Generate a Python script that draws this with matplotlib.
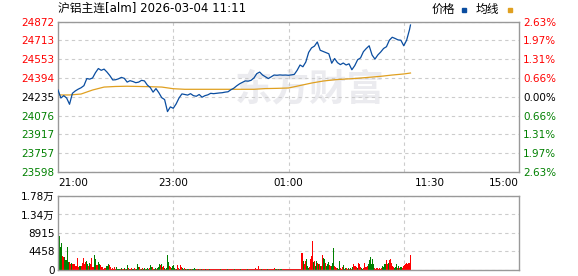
import numpy as np
import matplotlib
matplotlib.use('Agg')
import matplotlib.pyplot as plt

plt.rcParams['font.family'] = ['DejaVu Sans', 'Noto Sans CJK SC']

# axis scales
time_labels = ['21:00', '23:00', '01:00', '11:30', '15:00']
price_ticks = [23598, 23757, 23917, 24076, 24235, 24394, 24553, 24713, 24872]
pct_labels = ['2.63%', '1.97%', '1.31%', '0.66%', '0.00%', '0.66%', '1.31%', '1.97%', '2.63%']
vol_ticks = [0, 4458, 8915, 13373, 17830]
vol_labels = ['0', '4458', '8915', '1.34万', '1.78万']
prev_close = 24235

# price, one value every 3 minutes (last one at minute 367)
price = [24293, 24225, 24245, 24225, 24172, 24265, 24285, 24300, 24312, 24330,
         24390, 24385, 24395, 24440, 24475, 24460, 24470, 24445, 24415, 24378,
         24380, 24388, 24400, 24392, 24360, 24372, 24365, 24355, 24360, 24375,
         24370, 24335, 24315, 24275, 24305, 24270, 24228, 24212, 24110, 24150,
         24138, 24175, 24225, 24260, 24255, 24250, 24262, 24245, 24240, 24255,
         24232, 24245, 24252, 24265, 24262, 24265, 24268, 24270, 24275, 24278,
         24295, 24308, 24328, 24345, 24358, 24370, 24368, 24375, 24395, 24432,
         24445, 24420, 24405, 24390, 24405, 24420, 24418, 24421, 24419, 24420,
         24418, 24421, 24425, 24460, 24505, 24490, 24530, 24612, 24650, 24665,
         24700, 24630, 24620, 24610, 24600, 24520, 24560, 24525, 24508, 24522,
         24505, 24515, 24465, 24500, 24550, 24565, 24618, 24645, 24668, 24590,
         24555, 24590, 24615, 24645, 24660, 24715, 24740, 24730, 24718, 24715,
         24668, 24715, 24805, 24844]

# average line, one value every 12 minutes (last one at minute 367)
avg_price = [24251, 24251, 24259, 24293, 24318, 24323, 24325, 24323, 24321, 24318,
             24304, 24299, 24299, 24299, 24299, 24299, 24299, 24299, 24305, 24307,
             24310, 24331, 24352, 24369, 24380, 24386, 24392, 24401, 24409, 24420,
             24429, 24437]

# volume, one bar per minute
volume = [16380, 8190, 5540, 6585, 3370, 3130, 3210, 2410, 2410, 5540,
          2010, 2010, 3130, 1525, 1765, 1365, 1365, 1365, 965, 965,
          2890, 805, 965, 965, 965, 1605, 2890, 1365, 1925, 2170,
          1365, 965, 1765, 1365, 2890, 805, 805, 4015, 3535, 2570,
          1125, 1125, 1925, 1365, 1125, 805, 640, 320, 560, 480,
          965, 965, 1365, 1125, 805, 320, 560, 320, 720, 320,
          720, 320,
          240, 480, 320, 240, 560, 320, 240, 480, 320, 240,
          1205, 560, 320, 240, 480, 320, 240, 560, 320, 240,
          1445, 640, 805, 320, 240, 480, 320, 240, 560, 320,
          240, 560, 320, 480, 1205, 640, 805, 320, 240, 480,
          320, 560, 805, 1445, 1205, 1365, 720, 965, 480, 320,
          560, 640, 3535, 1925, 965, 805, 480, 965, 1205, 480,
          240, 320, 1205, 480, 240, 1205, 720, 560, 240, 560,
          160, 240, 160, 240, 160, 240, 160, 240, 160, 240,
          480, 160, 240, 160, 240, 160, 160, 240, 160, 160,
          240, 160, 160, 240, 160, 160, 240, 160, 160, 240,
          160, 160, 240, 160, 160, 240, 160, 160, 160, 240,
          160, 160, 240, 160, 160, 240, 160, 160, 160, 240,
          160, 160, 240, 160, 160, 240, 160, 160, 240, 160,
          160, 240, 160, 160, 240, 160, 160, 240, 160, 160,
          240, 160, 320, 560, 240, 160, 885, 320, 160, 240,
          160, 160, 240, 160, 160, 240, 160, 160, 240, 160,
          160, 240, 320, 560, 240, 160, 240, 160, 160, 240,
          160, 240, 160, 240,
          240, 240, 240, 240, 240, 240, 240, 240, 240, 240,
          240, 240, 240, 240, 240, 240, 240,
          4175, 4175, 2170, 1365, 2170, 2570, 965, 560, 640, 2570,
          3370, 6985, 2170, 1925, 2170, 965, 2170, 1765, 1365, 1365,
          965, 965, 3535, 2890, 2570, 1765, 965, 1365, 1925, 1125,
          965, 965, 1765, 5220, 965, 720, 560, 560, 560, 320,
          2170, 560, 320, 720, 1125, 320, 560, 560, 320, 560,
          320, 560, 320, 805, 1365, 965, 965, 720, 560, 1765,
          1365, 720, 560, 560, 320, 560, 1765, 805, 805, 965,
          1365, 2410, 3130, 1365, 2730, 1365, 560, 320, 560, 560,
          320, 560, 320, 560, 965, 805, 1365, 1365, 1765, 2330,
          1365, 1765, 2330, 2730, 1765, 965, 805, 560, 805, 1365,
          560, 965, 560, 720, 720, 560, 965, 1125, 1365, 1765,
          1525, 1765, 1765, 1765, 3615]

# bar direction per minute: r = up, g = down
direction = ('rgggrrgggg' 'grrrgrrrrr' 'rrggrrrrrg' 'grgrrrrrgg' 'rrggrrrrrr' 'gggrrrrrrr' 'gg'
             'grgrgrrgrg' 'grgrrggrrg' 'ggrrgrrggr' 'gggrggrrgg' 'rgggrgrrgr' 'ggggrrgggg'
             'rgrrgrrggr' 'grggrggrgg' 'ggrrgrrgrr' 'rgrrrgrrrr' 'rrgrrrrgrr' 'rrrrgrrrrr'
             'rgrrrrrrgr' 'rrrrrgrrrr' 'rrrrrrrrrg' 'rrgrrrgrrr' 'rrrrggrgrg' 'grrr'
             'rrrrrrrrrr' 'rrrrrrr'
             'rrgrrgggrr' 'rrggrggrgr' 'grrggrggg' 'r' 'rgggrrrggg' 'gr'
             'rrgggrrgrg' 'rgrrrrgrrr' 'rggrrrrrgg' 'ggggrrrrrr' 'rrggggrrrg'
             'rrrrrgggrg' 'rggrrrrrrr' 'rrrrr')

n_min = len(volume)
price_x = list(range(0, 367, 3)) + [367]
avg_x = list(range(0, 367, 12)) + [367]
vol_x = np.arange(n_min)
bar_colors = ['#ff0000' if d == 'r' else '#008000' for d in direction.ljust(n_min, 'r')[:n_min]]

grid_kw = dict(color='#cccccc', linestyle=(0, (3, 3)), linewidth=0.8)
spine_color = '#999999'

fig = plt.figure(figsize=(5.78, 2.76), dpi=100)
ax = fig.add_axes([58 / 578, 1 - 172 / 276, 461 / 578, 150.3 / 276])
axv = fig.add_axes([58 / 578, 1 - 270 / 276, 461 / 578, 74 / 276])

# watermark
ax.text(262, 24290, '东方财富', fontsize=27, color='#ebebef', fontweight='bold',
        ha='center', va='center', family=['Noto Sans CJK SC'], zorder=0)

ax.plot(avg_x, avg_price, color='#e0a020', linewidth=0.9, zorder=2)
ax.plot(price_x, price, color='#0a4da0', linewidth=0.9, zorder=3)

for a in (ax, axv):
    a.set_xlim(0, 480)
    a.set_xticks([120, 240, 360])
    a.tick_params(axis='both', which='both', length=0)
    for s in a.spines.values():
        s.set_color(spine_color)
        s.set_linewidth(1.0)
    a.grid(True, **grid_kw)
    a.set_axisbelow(True)

ax.set_ylim(price_ticks[0], price_ticks[-1])
ax.set_yticks(price_ticks)
ax.set_yticklabels([str(v) for v in price_ticks], fontsize=7.5)
for lab, v in zip(ax.get_yticklabels(), price_ticks):
    lab.set_color('#ff0000' if v > prev_close else ('#008000' if v < prev_close else '#000000'))
ax.tick_params(axis='y', pad=2.5)

# time labels as minor ticks
ax.xaxis.remove_overlapping_locs = False
ax.set_xticks([0, 120, 240, 387, 480], minor=True)
ax.set_xticklabels([], minor=False)
ax.set_xticklabels(time_labels, minor=True, fontsize=7.5)
ax.tick_params(axis='x', which='minor', pad=4)
xl = ax.get_xticklabels(minor=True)
xl[0].set_ha('left')
xl[-1].set_ha('right')

axr = ax.twinx()
axr.set_ylim(price_ticks[0], price_ticks[-1])
axr.set_yticks(price_ticks)
axr.set_yticklabels(pct_labels[::-1], fontsize=7.5)
for lab, v in zip(axr.get_yticklabels(), price_ticks):
    lab.set_color('#ff0000' if v > prev_close else ('#008000' if v < prev_close else '#000000'))
axr.tick_params(axis='y', length=0, pad=3)
for s in axr.spines.values():
    s.set_visible(False)

axv.bar(vol_x, volume, width=1.0, color=bar_colors, linewidth=0, align='edge',
        antialiased=False, zorder=2)
axv.set_ylim(0, vol_ticks[-1])
axv.set_yticks(vol_ticks)
axv.set_yticklabels(vol_labels, fontsize=7.5)
axv.set_xticklabels([])
axv.tick_params(axis='y', pad=2.5)

fig.text(58 / 578, 1 - 8.5 / 276, '沪铝主连[alm] 2026-03-04 11:11', fontsize=8.5,
         ha='left', va='center')
fig.text(432 / 578, 1 - 9 / 276, '价格', fontsize=8.5, ha='left', va='center')
fig.text(476 / 578, 1 - 9 / 276, '均线', fontsize=8.5, ha='left', va='center')
fig.patches.append(plt.Rectangle((462 / 578, 1 - 11.5 / 276), 4 / 578, 4 / 276,
                                 transform=fig.transFigure, color='#0a4da0'))
fig.patches.append(plt.Rectangle((508 / 578, 1 - 11.5 / 276), 4 / 578, 4 / 276,
                                 transform=fig.transFigure, color='#e0a020'))

fig.savefig('out.png', dpi=100)
